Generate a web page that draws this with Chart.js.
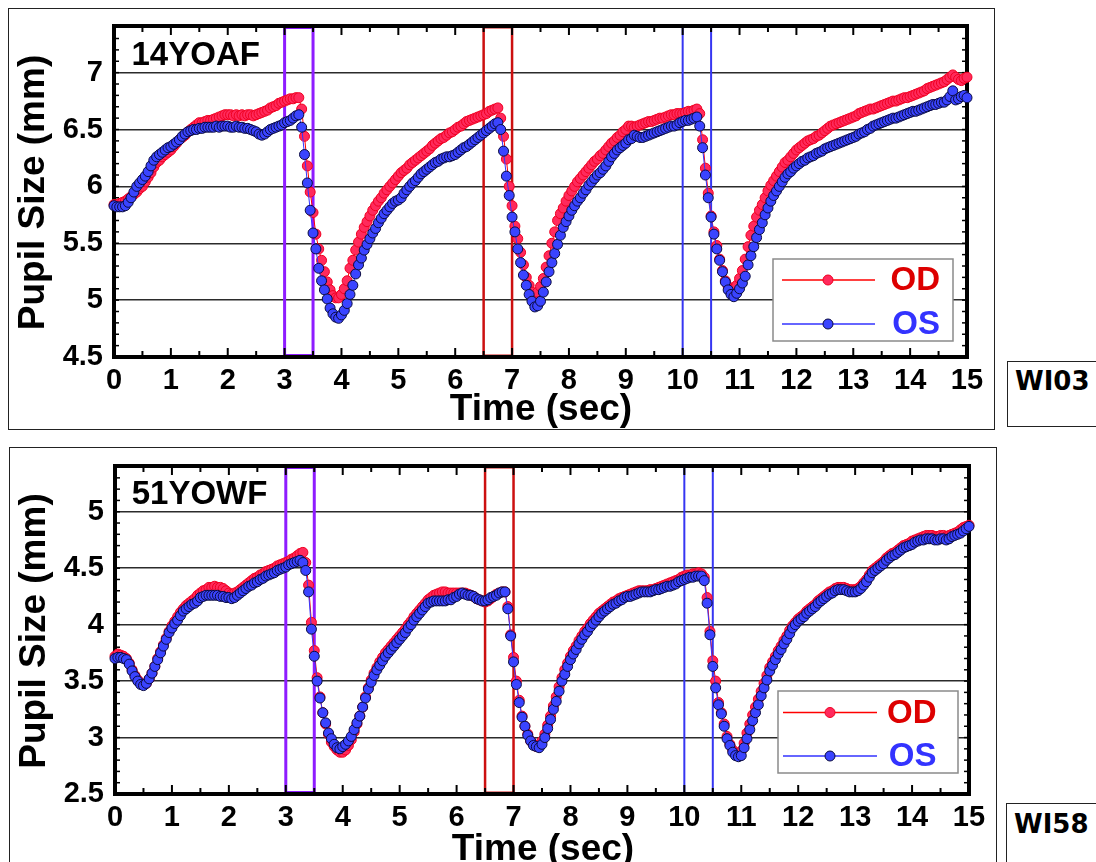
<!DOCTYPE html>
<html><head><meta charset="utf-8">
<script src="https://cdn.jsdelivr.net/npm/chart.js@4.4.1/dist/chart.umd.min.js"></script>
<style>
html,body{margin:0;padding:0;background:#fff;overflow:hidden;}
body{width:1096px;height:862px;position:relative;}
.panel{position:absolute;border:1px solid #222;box-sizing:border-box;}
.tag{position:absolute;border:1px solid #222;box-sizing:border-box;font:bold 26px "DejaVu Sans",sans-serif;line-height:30px;padding-left:7px;color:#000;}
canvas{position:absolute;}
</style></head><body>
<div class="panel" style="left:8px;top:8px;width:987px;height:422px"></div>
<div class="panel" style="left:9px;top:447px;width:988px;height:440px"></div>
<div class="tag" id="tag0" style="left:1007px;top:361px;width:100px;height:66px;padding-top:4px"></div>
<div class="tag" id="tag1" style="left:1006px;top:803px;width:100px;height:70px;padding-top:5px"></div>
<canvas id="c1" width="1000" height="440" style="left:0;top:0"></canvas>
<canvas id="c2" width="1000" height="422" style="left:0;top:440px"></canvas>
<script>
// ---- data ----
const TIME_SEC = [
0,0.05,0.1,0.15,0.2,0.25,0.3,0.35,0.4,0.45,0.5,0.55,0.6,0.65,0.7,0.75,0.8,0.85,0.9,0.95,
1,1.05,1.1,1.15,1.2,1.25,1.3,1.35,1.4,1.45,1.5,1.55,1.6,1.65,1.7,1.75,1.8,1.85,1.9,1.95,
2,2.05,2.1,2.15,2.2,2.25,2.3,2.35,2.4,2.45,2.5,2.55,2.6,2.65,2.7,2.75,2.8,2.85,2.9,2.95,
3,3.05,3.1,3.15,3.2,3.25,3.3,3.35,3.4,3.45,3.5,3.55,3.6,3.65,3.7,3.75,3.8,3.85,3.9,3.95,
4,4.05,4.1,4.15,4.2,4.25,4.3,4.35,4.4,4.45,4.5,4.55,4.6,4.65,4.7,4.75,4.8,4.85,4.9,4.95,
5,5.05,5.1,5.15,5.2,5.25,5.3,5.35,5.4,5.45,5.5,5.55,5.6,5.65,5.7,5.75,5.8,5.85,5.9,5.95,
6,6.05,6.1,6.15,6.2,6.25,6.3,6.35,6.4,6.45,6.5,6.55,6.6,6.65,6.7,6.75,6.8,6.85,6.9,6.95,
7,7.05,7.1,7.15,7.2,7.25,7.3,7.35,7.4,7.45,7.5,7.55,7.6,7.65,7.7,7.75,7.8,7.85,7.9,7.95,
8,8.05,8.1,8.15,8.2,8.25,8.3,8.35,8.4,8.45,8.5,8.55,8.6,8.65,8.7,8.75,8.8,8.85,8.9,8.95,
9,9.05,9.1,9.15,9.2,9.25,9.3,9.35,9.4,9.45,9.5,9.55,9.6,9.65,9.7,9.75,9.8,9.85,9.9,9.95,
10,10.05,10.1,10.15,10.2,10.25,10.3,10.35,10.4,10.45,10.5,10.55,10.6,10.65,10.7,10.75,10.8,10.85,10.9,10.95,
11,11.05,11.1,11.15,11.2,11.25,11.3,11.35,11.4,11.45,11.5,11.55,11.6,11.65,11.7,11.75,11.8,11.85,11.9,11.95,
12,12.05,12.1,12.15,12.2,12.25,12.3,12.35,12.4,12.45,12.5,12.55,12.6,12.65,12.7,12.75,12.8,12.85,12.9,12.95,
13,13.05,13.1,13.15,13.2,13.25,13.3,13.35,13.4,13.45,13.5,13.55,13.6,13.65,13.7,13.75,13.8,13.85,13.9,13.95,
14,14.05,14.1,14.15,14.2,14.25,14.3,14.35,14.4,14.45,14.5,14.55,14.6,14.65,14.7,14.75,14.8,14.85,14.9,14.95,
15];

const TOP_OD = [
5.84,5.84,5.85,5.86,5.87,5.89,5.91,5.93,5.95,5.98,6.00,6.04,6.08,6.12,6.17,6.21,6.23,6.26,6.28,6.30,
6.32,6.35,6.38,6.41,6.43,6.45,6.48,6.50,6.52,6.54,6.56,6.56,6.57,6.58,6.58,6.59,6.60,6.61,6.62,6.63,
6.63,6.63,6.62,6.63,6.62,6.63,6.62,6.63,6.63,6.62,6.63,6.64,6.65,6.66,6.67,6.69,6.70,6.71,6.73,6.74,
6.75,6.76,6.77,6.77,6.78,6.78,6.68,6.44,6.18,5.95,5.77,5.58,5.45,5.35,5.25,5.16,5.09,5.04,5.02,5.02,
5.05,5.10,5.17,5.28,5.35,5.44,5.51,5.58,5.64,5.69,5.74,5.79,5.83,5.87,5.90,5.94,5.97,6.00,6.03,6.06,
6.09,6.12,6.14,6.16,6.19,6.21,6.23,6.25,6.27,6.29,6.31,6.33,6.36,6.38,6.40,6.42,6.43,6.45,6.47,6.48,
6.50,6.52,6.53,6.55,6.57,6.58,6.59,6.60,6.61,6.62,6.63,6.64,6.66,6.67,6.68,6.69,6.60,6.44,6.24,6.00,
5.83,5.65,5.54,5.42,5.31,5.20,5.13,5.07,5.04,5.07,5.12,5.19,5.29,5.39,5.50,5.60,5.70,5.76,5.81,5.87,
5.92,5.96,6.00,6.04,6.07,6.10,6.13,6.16,6.19,6.22,6.24,6.27,6.29,6.32,6.35,6.38,6.40,6.43,6.45,6.48,
6.50,6.53,6.53,6.52,6.53,6.54,6.55,6.56,6.57,6.57,6.58,6.59,6.60,6.60,6.61,6.62,6.63,6.63,6.64,6.64,
6.64,6.65,6.66,6.66,6.67,6.68,6.64,6.41,6.16,5.94,5.74,5.60,5.48,5.36,5.26,5.17,5.12,5.09,5.10,5.13,
5.19,5.26,5.36,5.47,5.57,5.65,5.73,5.79,5.84,5.90,5.96,6.01,6.05,6.09,6.13,6.17,6.21,6.23,6.26,6.29,
6.32,6.34,6.36,6.38,6.40,6.41,6.42,6.44,6.45,6.47,6.49,6.51,6.53,6.54,6.55,6.56,6.57,6.58,6.59,6.60,
6.61,6.62,6.64,6.65,6.66,6.67,6.68,6.68,6.69,6.70,6.71,6.72,6.73,6.74,6.75,6.75,6.76,6.77,6.78,6.78,
6.79,6.80,6.81,6.82,6.83,6.84,6.86,6.87,6.88,6.89,6.90,6.91,6.92,6.94,6.96,6.98,6.96,6.94,6.93,6.95,
6.96];

const TOP_OS = [
5.83,5.82,5.82,5.82,5.83,5.86,5.90,5.95,6.00,6.03,6.06,6.09,6.13,6.18,6.23,6.26,6.28,6.30,6.32,6.34,
6.35,6.37,6.39,6.41,6.44,6.46,6.48,6.49,6.50,6.50,6.51,6.51,6.52,6.52,6.52,6.52,6.53,6.52,6.53,6.53,
6.53,6.52,6.52,6.53,6.52,6.52,6.51,6.51,6.50,6.49,6.48,6.46,6.45,6.46,6.48,6.50,6.51,6.52,6.53,6.54,
6.56,6.57,6.58,6.60,6.62,6.63,6.52,6.28,6.03,5.79,5.59,5.45,5.28,5.17,5.09,5.01,4.93,4.88,4.85,4.84,
4.87,4.91,4.97,5.05,5.13,5.23,5.31,5.37,5.44,5.49,5.54,5.59,5.63,5.68,5.72,5.76,5.79,5.82,5.85,5.87,
5.88,5.90,5.94,5.97,6.00,6.03,6.05,6.08,6.11,6.13,6.15,6.17,6.19,6.21,6.22,6.24,6.25,6.26,6.26,6.27,
6.28,6.30,6.32,6.34,6.35,6.37,6.39,6.41,6.43,6.45,6.47,6.49,6.51,6.53,6.55,6.56,6.50,6.31,6.09,5.92,
5.73,5.60,5.45,5.33,5.22,5.13,5.05,4.99,4.94,4.95,4.99,5.07,5.16,5.25,5.33,5.41,5.49,5.57,5.64,5.69,
5.74,5.79,5.83,5.87,5.90,5.94,5.97,6.01,6.04,6.07,6.10,6.12,6.15,6.18,6.22,6.26,6.29,6.32,6.34,6.36,
6.38,6.41,6.42,6.45,6.44,6.43,6.43,6.44,6.45,6.46,6.47,6.48,6.49,6.50,6.51,6.52,6.53,6.53,6.54,6.56,
6.57,6.58,6.58,6.59,6.60,6.61,6.53,6.34,6.10,5.90,5.73,5.58,5.45,5.35,5.25,5.16,5.09,5.05,5.03,5.06,
5.10,5.15,5.21,5.31,5.39,5.47,5.55,5.62,5.68,5.75,5.81,5.87,5.92,5.96,6.00,6.04,6.08,6.11,6.13,6.16,
6.18,6.20,6.22,6.23,6.25,6.26,6.27,6.29,6.30,6.31,6.33,6.34,6.35,6.36,6.37,6.38,6.39,6.40,6.41,6.42,
6.43,6.44,6.46,6.47,6.48,6.50,6.51,6.53,6.54,6.55,6.56,6.57,6.58,6.59,6.60,6.60,6.61,6.62,6.63,6.64,
6.65,6.66,6.66,6.67,6.68,6.69,6.70,6.71,6.72,6.72,6.73,6.74,6.74,6.76,6.79,6.84,6.76,6.77,6.79,6.80,
6.78];

const BOT_OD = [
3.72,3.74,3.73,3.72,3.70,3.66,3.60,3.55,3.51,3.48,3.47,3.48,3.52,3.57,3.63,3.70,3.76,3.82,3.88,3.94,
3.99,4.03,4.07,4.11,4.14,4.17,4.19,4.21,4.23,4.26,4.28,4.30,4.31,4.33,4.33,4.34,4.33,4.33,4.32,4.30,
4.28,4.27,4.28,4.29,4.31,4.33,4.35,4.37,4.39,4.41,4.42,4.44,4.45,4.47,4.48,4.49,4.50,4.52,4.53,4.54,
4.55,4.56,4.58,4.59,4.61,4.63,4.64,4.55,4.35,4.02,3.77,3.53,3.36,3.22,3.12,3.03,2.96,2.92,2.89,2.87,
2.87,2.89,2.93,2.98,3.05,3.12,3.19,3.27,3.36,3.44,3.51,3.57,3.62,3.67,3.71,3.75,3.78,3.81,3.84,3.87,
3.90,3.93,3.96,4.00,4.03,4.07,4.10,4.13,4.16,4.19,4.22,4.24,4.26,4.27,4.28,4.29,4.29,4.28,4.28,4.28,
4.28,4.28,4.28,4.28,4.27,4.26,4.25,4.23,4.22,4.21,4.20,4.21,4.23,4.25,4.27,4.28,4.29,4.29,4.16,3.91,
3.71,3.50,3.33,3.19,3.10,3.03,2.97,2.94,2.92,2.93,2.97,3.03,3.11,3.19,3.28,3.36,3.45,3.53,3.60,3.66,
3.72,3.77,3.81,3.86,3.90,3.94,3.97,4.01,4.04,4.07,4.10,4.12,4.14,4.16,4.18,4.20,4.21,4.23,4.24,4.25,
4.26,4.27,4.28,4.29,4.30,4.30,4.30,4.30,4.31,4.31,4.32,4.33,4.34,4.35,4.36,4.37,4.38,4.39,4.40,4.42,
4.43,4.44,4.44,4.45,4.45,4.46,4.45,4.42,4.24,3.94,3.68,3.50,3.31,3.22,3.12,3.01,2.94,2.89,2.86,2.86,
2.88,2.95,3.04,3.12,3.20,3.27,3.34,3.41,3.48,3.55,3.62,3.67,3.72,3.77,3.81,3.86,3.90,3.95,3.99,4.02,
4.05,4.07,4.09,4.12,4.14,4.16,4.18,4.21,4.23,4.25,4.27,4.29,4.30,4.32,4.33,4.33,4.33,4.32,4.31,4.31,
4.31,4.32,4.34,4.37,4.40,4.44,4.48,4.50,4.52,4.54,4.56,4.59,4.61,4.63,4.64,4.66,4.68,4.70,4.71,4.72,
4.74,4.75,4.76,4.77,4.78,4.79,4.79,4.79,4.78,4.78,4.79,4.79,4.78,4.79,4.80,4.81,4.82,4.84,4.86,4.87,
4.88];

const BOT_OS = [
3.70,3.71,3.71,3.70,3.69,3.65,3.59,3.54,3.50,3.47,3.46,3.48,3.52,3.57,3.63,3.69,3.75,3.81,3.87,3.93,
3.97,4.01,4.04,4.08,4.12,4.14,4.16,4.18,4.19,4.21,4.24,4.25,4.26,4.26,4.26,4.26,4.26,4.25,4.25,4.24,
4.24,4.23,4.24,4.26,4.28,4.30,4.32,4.34,4.35,4.37,4.38,4.40,4.41,4.43,4.44,4.45,4.46,4.48,4.49,4.50,
4.51,4.53,4.54,4.55,4.56,4.57,4.55,4.48,4.29,3.96,3.72,3.50,3.35,3.22,3.13,3.04,2.99,2.94,2.91,2.90,
2.92,2.94,2.97,3.01,3.07,3.13,3.19,3.27,3.35,3.43,3.49,3.55,3.60,3.64,3.68,3.72,3.75,3.78,3.81,3.84,
3.87,3.90,3.93,3.97,4.00,4.04,4.07,4.10,4.13,4.16,4.19,4.20,4.21,4.21,4.21,4.21,4.21,4.22,4.22,4.24,
4.25,4.27,4.28,4.27,4.26,4.26,4.25,4.23,4.22,4.21,4.21,4.22,4.24,4.25,4.26,4.28,4.29,4.29,4.14,3.90,
3.67,3.47,3.31,3.18,3.10,3.02,2.97,2.93,2.92,2.91,2.94,3.00,3.08,3.16,3.25,3.32,3.41,3.50,3.56,3.63,
3.69,3.74,3.78,3.83,3.87,3.91,3.94,3.98,4.01,4.04,4.07,4.10,4.12,4.14,4.16,4.18,4.19,4.21,4.22,4.24,
4.25,4.25,4.26,4.27,4.28,4.29,4.29,4.29,4.29,4.30,4.31,4.31,4.32,4.33,4.34,4.34,4.35,4.36,4.38,4.39,
4.40,4.41,4.42,4.42,4.43,4.43,4.43,4.39,4.19,3.91,3.63,3.44,3.29,3.21,3.10,2.99,2.93,2.87,2.84,2.83,
2.84,2.91,2.99,3.07,3.15,3.22,3.29,3.37,3.44,3.51,3.59,3.64,3.69,3.74,3.78,3.83,3.87,3.92,3.97,4.00,
4.03,4.05,4.07,4.10,4.12,4.14,4.16,4.19,4.21,4.23,4.25,4.27,4.28,4.30,4.31,4.31,4.31,4.30,4.29,4.29,
4.29,4.30,4.32,4.35,4.38,4.42,4.46,4.48,4.50,4.52,4.54,4.57,4.59,4.61,4.62,4.64,4.66,4.68,4.69,4.70,
4.71,4.73,4.74,4.75,4.75,4.76,4.76,4.76,4.75,4.75,4.76,4.76,4.75,4.76,4.78,4.79,4.80,4.81,4.83,4.85,
4.87];

const X_TICKS = [0,1,2,3,4,5,6,7,8,9,10,11,12,13,14,15];
const TOP_Y_TICKS = [4.5,5,5.5,6,6.5,7];
const BOT_Y_TICKS = [2.5,3,3.5,4,4.5,5];
const SERIES_NAMES = ['OD','OS'];
const STIM_WINDOWS = [[3.0,3.5],[6.5,7.0],[10.0,10.5]];
const PANEL_NAMES = ['14YOAF','51YOWF'];
const SUBJECT_IDS = ['WI03','WI58'];
const X_TITLE = 'Time (sec)';
const Y_TITLE = 'Pupil Size (mm)';

// ---- styling ----
const FONT = '"Liberation Sans", Arial, sans-serif';
const STIM_STYLE = [{color:'#8e1cff',width:3},{color:'#cc1010',width:2.5},{color:'#3636f2',width:2}];
const LEGEND_TEXT_COLORS = ['#dd0000','#3333ff'];

document.getElementById('tag0').textContent = SUBJECT_IDS[0];
document.getElementById('tag1').textContent = SUBJECT_IDS[1];

function line(ctx,x0,y0,x1,y1){ctx.beginPath();ctx.moveTo(x0,y0);ctx.lineTo(x1,y1);ctx.stroke();}

const pupilPlugin = {
  id:'pupil',
  beforeDatasetsDraw(chart, args, o){
    const {ctx, chartArea:a, scales:{x,y}} = chart;
    ctx.save();
    STIM_WINDOWS.forEach((w,i)=>{
      const st = STIM_STYLE[i];
      const x0 = x.getPixelForValue(w[0]), x1 = x.getPixelForValue(w[1]);
      ctx.strokeStyle = st.color; ctx.lineWidth = st.width;
      ctx.strokeRect(x0, a.top + st.width/2, x1 - x0, a.height - st.width);
    });
    ctx.strokeStyle = '#000'; ctx.lineWidth = 4;
    ctx.strokeRect(a.left, a.top, a.width, a.height);
    ctx.lineWidth = 2;
    for (let k = Math.round(x.min*2); k <= Math.round(x.max*2); k++){
      const px = x.getPixelForValue(k/2);
      const len = (k % 2 === 0) ? 9 : 6;
      line(ctx, px, a.top, px, a.top + len);
      line(ctx, px, a.bottom, px, a.bottom - len);
    }
    ctx.lineWidth = 1.5;
    for (let k = Math.ceil(y.min*10 - 1e-6); k <= Math.floor(y.max*10 + 1e-6); k++){
      const py = y.getPixelForValue(k/10);
      line(ctx, a.left, py, a.left + 5, py);
      line(ctx, a.right, py, a.right - 5, py);
    }
    ctx.restore();
  },
  afterDatasetsDraw(chart, args, o){
    const {ctx} = chart;
    ctx.save();
    // panel name
    ctx.fillStyle = '#000';
    ctx.font = 'bold 33px ' + FONT;
    ctx.textAlign = 'left'; ctx.textBaseline = 'alphabetic';
    ctx.fillText(o.name, o.nameX, o.nameY);
    // legend
    const L = o.legend;
    ctx.fillStyle = '#fff';
    ctx.fillRect(L.x, L.y, L.w, L.h);
    ctx.strokeStyle = '#8a8a8a'; ctx.lineWidth = 1.5;
    ctx.strokeRect(L.x, L.y, L.w, L.h);
    chart.data.datasets.forEach((ds,i)=>{
      const yy = L.rows[i];
      ctx.strokeStyle = ds.borderColor; ctx.lineWidth = 1.5;
      line(ctx, L.lineX0, yy, L.lineX1, yy);
      ctx.beginPath(); ctx.arc(L.markerX, yy, 5, 0, Math.PI*2);
      ctx.fillStyle = ds.pointBackgroundColor; ctx.fill();
      ctx.strokeStyle = ds.pointBorderColor; ctx.lineWidth = 1; ctx.stroke();
      ctx.fillStyle = LEGEND_TEXT_COLORS[i];
      ctx.font = 'bold 33px ' + FONT;
      ctx.textAlign = 'right'; ctx.textBaseline = 'middle';
      ctx.fillText(ds.label, L.textRight, yy + 1);
    });
    // axis titles
    ctx.fillStyle = '#000';
    ctx.font = 'bold 37px ' + FONT;
    ctx.textAlign = 'center'; ctx.textBaseline = 'alphabetic';
    ctx.fillText(X_TITLE, o.xTitleX, o.xTitleY);
    ctx.translate(o.yTitleX, o.yTitleY);
    ctx.rotate(-Math.PI/2);
    ctx.fillText(Y_TITLE, 0, 0);
    ctx.restore();
  }
};

function buildPanel(canvasId, od, os, yTicks, yMax, geom, deco){
  const toPts = vals => TIME_SEC.map((t,i)=>({x:t, y:vals[i]}));
  const tickFont = {family:FONT, size:29, weight:'bold', lineHeight:1};
  return new Chart(document.getElementById(canvasId), {
    type:'line',
    data:{datasets:[
      {label:SERIES_NAMES[0], data:toPts(od), borderColor:'#ff0000', borderWidth:1,
       pointRadius:5, pointBackgroundColor:'#ff2a5c', pointBorderColor:'#f00020', pointBorderWidth:1,
       order:1, clip:false, tension:0},
      {label:SERIES_NAMES[1], data:toPts(os), borderColor:'#3333ff', borderWidth:1,
       pointRadius:5, pointBackgroundColor:'#3a44ff', pointBorderColor:'#0a0a40', pointBorderWidth:1,
       order:0, clip:false, tension:0}
    ]},
    options:{
      responsive:false, animation:false, events:[],
      layout:{padding:{left:0, top:geom.top, right:geom.right, bottom:0}},
      plugins:{legend:{display:false}, tooltip:{enabled:false}, pupil:deco},
      scales:{
        x:{type:'linear', min:0, max:15,
           afterBuildTicks:s=>{s.ticks = X_TICKS.map(v=>({value:v}));},
           afterFit:s=>{s.height = geom.xH;},
           grid:{display:false}, border:{display:false},
           ticks:{font:tickFont, color:'#000', padding:1, maxRotation:0, autoSkip:false,
                  callback:v=>String(v)}},
        y:{type:'linear', min:yTicks[0], max:yMax,
           afterBuildTicks:s=>{s.ticks = yTicks.map(v=>({value:v}));},
           afterFit:s=>{s.width = geom.yW;},
           grid:{color:'#2b2b2b', lineWidth:1.5, drawTicks:false}, border:{display:false},
           ticks:{font:tickFont, color:'#000', padding:11, autoSkip:false,
                  callback:v=>String(+Number(v).toFixed(2))}}
      }
    },
    plugins:[pupilPlugin]
  });
}

buildPanel('c1', TOP_OD, TOP_OS, TOP_Y_TICKS, 7.41,
  {top:26, right:33, xH:83, yW:114},
  {name:PANEL_NAMES[0], nameX:131.5, nameY:65,
   legend:{x:773, y:259, w:180, h:82, rows:[280,324], lineX0:782, lineX1:875, markerX:828, textRight:940},
   xTitleX:541, xTitleY:420, yTitleX:44, yTitleY:192.5});

buildPanel('c2', BOT_OD, BOT_OS, BOT_Y_TICKS, 5.405,
  {top:26, right:31, xH:68, yW:115},
  {name:PANEL_NAMES[1], nameX:131.7, nameY:63.5,
   legend:{x:778, y:251, w:180, h:82, rows:[272.5,316], lineX0:783, lineX1:877, markerX:830, textRight:936.5},
   xTitleX:543, xTitleY:420, yTitleX:44.5, yTitleY:191});
</script>
</body></html>
